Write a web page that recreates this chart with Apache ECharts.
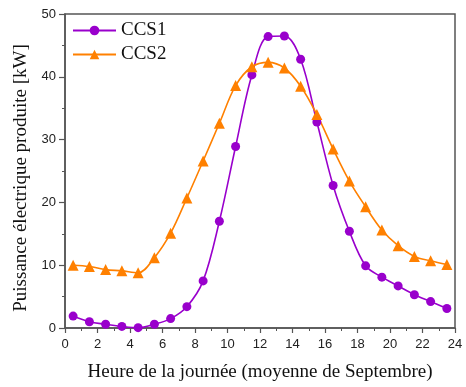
<!DOCTYPE html>
<html><head><meta charset="utf-8">
<script src="https://cdn.jsdelivr.net/npm/echarts@6/dist/echarts.min.js"></script>
<style>html,body{margin:0;padding:0;background:#fff}#c{width:466px;height:387px}</style>
</head><body><div id="c"></div>
<script>
const hours = [0.5,1.5,2.5,3.5,4.5,5.5,6.5,7.5,8.5,9.5,10.5,11.5,12.5,13.5,14.5,15.5,16.5,17.5,18.5,19.5,20.5,21.5,22.5,23.5];
const ccs1 = [1.9,1.0,0.6,0.25,0.05,0.6,1.5,3.4,7.5,17.0,28.9,40.3,46.4,46.5,42.8,32.8,22.7,15.4,9.9,8.1,6.7,5.3,4.2,3.1];
const ccs2 = [10.0,9.8,9.3,9.1,8.8,11.2,15.1,20.7,26.6,32.6,38.6,41.6,42.3,41.4,38.5,34.0,28.5,23.4,19.3,15.6,13.1,11.4,10.7,10.1];
const xLabel = 'Heure de la journée (moyenne de Septembre)';
const yLabel = 'Puissance électrique produite [kW]';

const chart = echarts.init(document.getElementById('c'), null, {renderer:'canvas'});
const axisCol = '#555';
const tickFont = {fontFamily:'Liberation Sans', fontSize:13, color:'#222'};
chart.setOption({
  animation:false,
  grid:{left:65, right:11, top:14, bottom:58, show:true, borderColor:axisCol, borderWidth:1.5, backgroundColor:'transparent'},
  legend:{
    orient:'vertical', left:67, top:16, itemGap:5, itemWidth:43, itemHeight:12, itemTextGap:4,
    textStyle:{fontFamily:'Liberation Serif', fontSize:19, color:'#111'},
    data:['CCS1','CCS2']
  },
  xAxis:{
    type:'value', min:0, max:24, interval:2,
    name:xLabel, nameLocation:'middle', nameGap:35,
    nameTextStyle:{fontFamily:'Liberation Serif', fontSize:19, color:'#111'},
    axisLine:{show:true, lineStyle:{color:axisCol, width:1.5}},
    axisTick:{show:true, length:5, lineStyle:{color:axisCol, width:1.2}},
    minorTick:{show:true, splitNumber:2, length:3, lineStyle:{color:axisCol, width:1}},
    splitLine:{show:false},
    axisLabel:Object.assign({margin:10}, tickFont)
  },
  yAxis:{
    type:'value', min:0, max:50, interval:10,
    name:yLabel, nameLocation:'middle', nameGap:31,
    nameTextStyle:{fontFamily:'Liberation Serif', fontSize:19, color:'#111', padding:[0,14,0,0]},
    axisLine:{show:true, lineStyle:{color:axisCol, width:1.5}},
    axisTick:{show:true, length:6, lineStyle:{color:axisCol, width:1.2}},
    minorTick:{show:true, splitNumber:2, length:3, lineStyle:{color:axisCol, width:1}},
    splitLine:{show:false},
    axisLabel:Object.assign({margin:9}, tickFont)
  },
  series:[
    {name:'CCS1', type:'line', data:hours.map((h,i)=>[h,ccs1[i]]), smooth:0.35,
     symbol:'circle', symbolSize:9, color:'#9900cc',
     lineStyle:{width:1.6, color:'#9900cc'}, itemStyle:{color:'#9900cc'}},
    {name:'CCS2', type:'line', data:hours.map((h,i)=>[h,ccs2[i]]), smooth:0.35,
     symbol:'triangle', symbolSize:11, color:'#ff8000',
     lineStyle:{width:1.6, color:'#ff8000'}, itemStyle:{color:'#ff8000'}}
  ]
});
</script></body></html>
